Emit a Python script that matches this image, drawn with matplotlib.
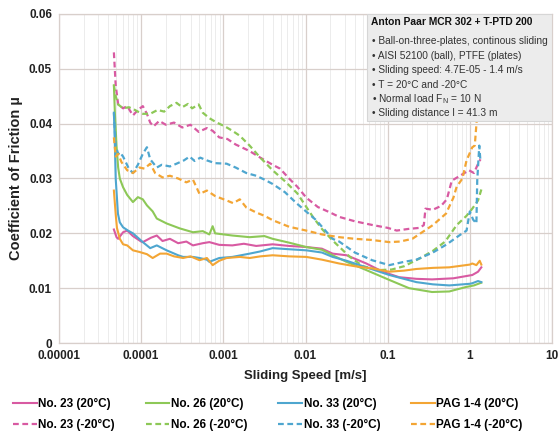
import numpy as np
import matplotlib
matplotlib.use("Agg")
import matplotlib.pyplot as plt
from matplotlib.patches import Rectangle
from matplotlib.ticker import FixedLocator, LogLocator, NullFormatter

plt.rcParams['font.family'] = ['Liberation Sans', 'DejaVu Sans']
plt.rcParams['mathtext.fontset'] = 'custom'
plt.rcParams['mathtext.rm'] = 'Liberation Sans'
plt.rcParams['mathtext.it'] = 'Liberation Sans:italic'
plt.rcParams['mathtext.bf'] = 'Liberation Sans:bold'

# ---------------- data (log10 of sliding speed in m/s, friction coefficient) ----------------
lx_23_p = [-4.332, -4.30, -4.28, -4.22, -4.17, -4.10, -4.00, -3.98, -3.88, -3.81, -3.74, -3.65, -3.55,
           -3.45, -3.37, -3.25, -3.17, -3.05, -2.89, -2.75, -2.60, -2.40, -2.20, -1.99, -1.80, -1.67,
           -1.50, -1.26, -1.06, -0.86, -0.65, -0.46, -0.20, 0.03, 0.10, 0.14]
mu_23_p = [0.0207, 0.0193, 0.0190, 0.0202, 0.0205, 0.0195, 0.0185, 0.0184, 0.0192, 0.0196, 0.0186, 0.0190,
           0.0182, 0.0185, 0.0178, 0.0182, 0.0184, 0.0179, 0.0178, 0.0181, 0.0177, 0.0180, 0.0177, 0.0175,
           0.0172, 0.0163, 0.0160, 0.0145, 0.0130, 0.0120, 0.0117, 0.0116, 0.0118, 0.0124, 0.0130, 0.0138]

lx_23_m = [-4.332, -4.31, -4.28, -4.22, -4.17, -4.10, -4.04, -3.98, -3.93, -3.89, -3.85, -3.78, -3.70,
           -3.60, -3.50, -3.40, -3.30, -3.20, -3.13, -3.05, -2.95, -2.85, -2.75, -2.68, -2.55, -2.40,
           -2.31, -2.20, -2.10, -1.99, -1.85, -1.70, -1.59, -1.40, -1.18, -1.00, -0.89, -0.75, -0.61,
           -0.56, -0.54, -0.45, -0.35, -0.28, -0.22, -0.12, -0.01, 0.05, 0.11, 0.13]
mu_23_m = [0.0530, 0.0470, 0.0435, 0.0428, 0.0432, 0.0415, 0.0425, 0.0432, 0.0418, 0.0402, 0.0395, 0.0405,
           0.0398, 0.0402, 0.0393, 0.0398, 0.0385, 0.0392, 0.0387, 0.0375, 0.0372, 0.0362, 0.0355, 0.0350,
           0.0338, 0.0325, 0.0318, 0.0300, 0.0285, 0.0265, 0.0248, 0.0238, 0.0230, 0.0222, 0.0215, 0.0210,
           0.0205, 0.0208, 0.0210, 0.0215, 0.0245, 0.0243, 0.0250, 0.0262, 0.0296, 0.0305, 0.0315, 0.0310,
           0.0330, 0.0335]

lx_26_p = [-4.332, -4.32, -4.30, -4.28, -4.26, -4.22, -4.17, -4.10, -4.04, -3.98, -3.93, -3.86, -3.81,
           -3.69, -3.53, -3.37, -3.25, -3.17, -3.13, -3.10, -2.89, -2.68, -2.50, -2.40, -2.20, -1.99,
           -1.80, -1.67, -1.50, -1.26, -0.98, -0.74, -0.46, -0.25, -0.05, 0.05, 0.14]
mu_26_p = [0.0470, 0.0420, 0.0360, 0.0320, 0.0300, 0.0284, 0.0270, 0.0257, 0.0266, 0.0262, 0.0251, 0.0240,
           0.0227, 0.0218, 0.0209, 0.0202, 0.0204, 0.0198, 0.0213, 0.0200, 0.0196, 0.0193, 0.0195, 0.0190,
           0.0183, 0.0175, 0.0170, 0.0160, 0.0148, 0.0133, 0.0115, 0.0100, 0.0093, 0.0094, 0.0102, 0.0105,
           0.0110]

lx_26_m = [-4.332, -4.31, -4.28, -4.22, -4.15, -4.10, -4.04, -3.98, -3.89, -3.80, -3.72, -3.65, -3.57,
           -3.50, -3.43, -3.38, -3.30, -3.25, -3.17, -3.08, -2.98, -2.89, -2.80, -2.68, -2.55, -2.40,
           -2.25, -2.10, -1.91, -1.80, -1.67, -1.46, -1.30, -1.10, -0.95, -0.80, -0.60, -0.45, -0.30,
           -0.16, -0.04, 0.03, 0.10, 0.14]
mu_26_m = [0.0470, 0.0450, 0.0435, 0.0428, 0.0430, 0.0427, 0.0422, 0.0418, 0.0418, 0.0425, 0.0422, 0.0432,
           0.0438, 0.0430, 0.0436, 0.0428, 0.0435, 0.0420, 0.0410, 0.0402, 0.0395, 0.0387, 0.0378, 0.0360,
           0.0338, 0.0315, 0.0295, 0.0273, 0.0230, 0.0208, 0.0187, 0.0157, 0.0140, 0.0133, 0.0134, 0.0140,
           0.0155, 0.0168, 0.0185, 0.0215, 0.0232, 0.0245, 0.0260, 0.0280]

lx_33_p = [-4.332, -4.32, -4.31, -4.295, -4.283, -4.26, -4.22, -4.16, -4.10, -4.04, -3.98, -3.89, -3.81,
           -3.69, -3.55, -3.49, -3.37, -3.29, -3.20, -3.17, -3.05, -2.89, -2.68, -2.55, -2.40, -2.20,
           -1.99, -1.80, -1.67, -1.50, -1.26, -0.98, -0.65, -0.45, -0.25, 0.00, 0.03, 0.10, 0.14]
mu_33_p = [0.0420, 0.0360, 0.0300, 0.0265, 0.0236, 0.0220, 0.0211, 0.0205, 0.0200, 0.0192, 0.0184, 0.0173,
           0.0178, 0.0169, 0.0160, 0.0157, 0.0157, 0.0155, 0.0152, 0.0148, 0.0155, 0.0157, 0.0163, 0.0167,
           0.0173, 0.0171, 0.0169, 0.0165, 0.0157, 0.0150, 0.0138, 0.0124, 0.0111, 0.0107, 0.0105, 0.0108,
           0.0109, 0.0113, 0.0111]

lx_33_m = [-4.332, -4.31, -4.28, -4.26, -4.22, -4.15, -4.10, -4.04, -3.98, -3.93, -3.89, -3.81, -3.75,
           -3.65, -3.57, -3.48, -3.41, -3.35, -3.28, -3.20, -3.10, -2.96, -2.85, -2.72, -2.60, -2.50,
           -2.40, -2.25, -2.11, -1.87, -1.67, -1.59, -1.40, -1.19, -0.98, -0.80, -0.65, -0.45, -0.28,
           -0.13, -0.04, 0.00, 0.04, 0.08, 0.09, 0.115, 0.13]
mu_33_m = [0.0420, 0.0360, 0.0345, 0.0348, 0.0340, 0.0318, 0.0310, 0.0325, 0.0345, 0.0357, 0.0335, 0.0320,
           0.0325, 0.0322, 0.0327, 0.0333, 0.0340, 0.0332, 0.0338, 0.0333, 0.0328, 0.0327, 0.0320, 0.0310,
           0.0305, 0.0298, 0.0290, 0.0275, 0.0255, 0.0224, 0.0190, 0.0185, 0.0165, 0.0151, 0.0142, 0.0148,
           0.0152, 0.0165, 0.0180, 0.0196, 0.0205, 0.0240, 0.0225, 0.0218, 0.0296, 0.0360, 0.0330]

lx_pag_p = [-4.332, -4.31, -4.295, -4.26, -4.22, -4.17, -4.10, -4.02, -3.93, -3.86, -3.77, -3.69, -3.60,
            -3.49, -3.40, -3.29, -3.20, -3.13, -3.05, -2.96, -2.80, -2.68, -2.55, -2.40, -2.20, -1.99,
            -1.80, -1.59, -1.40, -1.19, -0.98, -0.80, -0.65, -0.45, -0.25, 0.00, 0.03, 0.08, 0.12, 0.14]
mu_pag_p = [0.0278, 0.0235, 0.0210, 0.0190, 0.0180, 0.0178, 0.0169, 0.0166, 0.0162, 0.0155, 0.0163, 0.0163,
            0.0158, 0.0155, 0.0158, 0.0151, 0.0155, 0.0142, 0.0150, 0.0155, 0.0157, 0.0155, 0.0158, 0.0160,
            0.0158, 0.0157, 0.0152, 0.0145, 0.0140, 0.0136, 0.0130, 0.0132, 0.0135, 0.0137, 0.0138, 0.0143,
            0.0145, 0.0142, 0.0150, 0.0143]

lx_pag_m = [-4.332, -4.31, -4.28, -4.24, -4.17, -4.10, -4.02, -3.96, -3.89, -3.83, -3.74, -3.65, -3.55,
            -3.45, -3.37, -3.29, -3.20, -3.10, -2.96, -2.88, -2.80, -2.72, -2.60, -2.50, -2.40, -2.20,
            -1.99, -1.80, -1.59, -1.40, -1.20, -0.98, -0.85, -0.70, -0.55, -0.45, -0.29, -0.20, -0.16,
            -0.09, -0.04, 0.03, 0.06, 0.09, 0.115]
mu_pag_m = [0.0375, 0.0340, 0.0345, 0.0330, 0.0315, 0.0310, 0.0320, 0.0318, 0.0327, 0.0310, 0.0302, 0.0305,
            0.0300, 0.0293, 0.0298, 0.0272, 0.0278, 0.0268, 0.0260, 0.0255, 0.0262, 0.0247, 0.0238, 0.0232,
            0.0224, 0.0212, 0.0205, 0.0198, 0.0193, 0.0190, 0.0188, 0.0184, 0.0185, 0.0190, 0.0205, 0.0215,
            0.0236, 0.0265, 0.0285, 0.0300, 0.0333, 0.0357, 0.0360, 0.0418, 0.0440]

x_ticks = [0.00001, 0.0001, 0.001, 0.01, 0.1, 1, 10]
x_tick_labels = ["0.00001", "0.0001", "0.001", "0.01", "0.1", "1", "10"]
y_ticks = [0, 0.01, 0.02, 0.03, 0.04, 0.05, 0.06]
y_tick_labels = ["0", "0.01", "0.02", "0.03", "0.04", "0.05", "0.06"]

labels = ["No. 23 (20°C)", "No. 23 (-20°C)", "No. 26 (20°C)", "No. 26 (-20°C)",
          "No. 33 (20°C)", "No. 33 (-20°C)", "PAG 1-4 (20°C)", "PAG 1-4 (-20°C)"]

info_title = "Anton Paar MCR 302 + T-PTD 200"
info_lines = ["• Ball-on-three-plates, continous sliding",
              "• AISI 52100 (ball), PTFE (plates)",
              "• Sliding speed: 4.7E-05 - 1.4 m/s",
              "• T = 20°C and -20°C",
              "• Normal load F$_\\mathregular{N}$ = 10 N",
              "• Sliding distance l = 41.3 m"]

# ---------------- styling ----------------
c_pink = "#d85aa2"
c_green = "#8dc857"
c_blue = "#4ea6cf"
c_orange = "#f3a534"

series = [
    (lx_23_p, mu_23_p, c_pink, "-"),
    (lx_23_m, mu_23_m, c_pink, "--"),
    (lx_26_p, mu_26_p, c_green, "-"),
    (lx_26_m, mu_26_m, c_green, "--"),
    (lx_33_p, mu_33_p, c_blue, "-"),
    (lx_33_m, mu_33_m, c_blue, "--"),
    (lx_pag_p, mu_pag_p, c_orange, "-"),
    (lx_pag_m, mu_pag_m, c_orange, "--"),
]

W, H = 558, 436
fig = plt.figure(figsize=(W / 100, H / 100), dpi=100)
ax = fig.add_axes([59 / W, 1 - 343 / H, (552 - 59) / W, (343 - 14) / H])

handles = []
for (lx, mu, col, ls), lab in zip(series, labels):
    speed = np.power(10.0, np.array(lx))
    if ls == "--":
        h, = ax.plot(speed, mu, color=col, lw=1.6, ls=(0, (2.6, 1.6)), label=lab, zorder=3)
    else:
        h, = ax.plot(speed, mu, color=col, lw=1.5, ls="-", label=lab, zorder=3)
    handles.append(h)

ax.set_xscale("log")
ax.set_xlim(1e-5, 10)
ax.set_ylim(0, 0.06)
ax.xaxis.set_major_locator(FixedLocator(x_ticks))
ax.set_xticklabels(x_tick_labels)
ax.xaxis.set_minor_locator(LogLocator(base=10, subs=np.arange(2, 10) * 1.0, numticks=20))
ax.xaxis.set_minor_formatter(NullFormatter())
ax.set_yticks(y_ticks)
ax.set_yticklabels(y_tick_labels)

ax.grid(True, which="major", axis="both", color="#d8cfcb", lw=0.9, zorder=0)
ax.grid(True, which="minor", axis="x", color="#ececec", lw=0.7, zorder=0)
ax.set_axisbelow(True)
for s in ax.spines.values():
    s.set_color("#d8cfcb")
    s.set_linewidth(0.9)
ax.tick_params(axis="both", which="both", length=0, pad=5)
for lab in ax.get_xticklabels() + ax.get_yticklabels():
    lab.set_fontweight("bold")
    lab.set_fontsize(8.5)
    lab.set_color("#222222")

ax.set_xlabel("Sliding Speed [m/s]", fontsize=9.5, fontweight="bold", color="#222222", labelpad=6)
ax.set_ylabel("Coefficient of Friction µ", fontsize=10.5, fontweight="bold", color="#222222", labelpad=4)

# info box
def ax_x(px):
    return (px - 59) / (552 - 59)

def ax_y(py):
    return (343 - py) / (343 - 14)

box = Rectangle((ax_x(367), ax_y(121)), 1 - ax_x(367), 1 - ax_y(121), transform=ax.transAxes,
                facecolor="#ececec", edgecolor="#d6d6d6", lw=0.8, zorder=5)
ax.add_patch(box)
ax.text(ax_x(371), ax_y(22), info_title, transform=ax.transAxes, fontsize=7.4, fontweight="bold",
        va="center", ha="left", color="#111111", zorder=6)
for i, line in enumerate(info_lines):
    ax.text(ax_x(372), ax_y(44.5 + 14.4 * i), line, transform=ax.transAxes, fontsize=7.3,
            va="baseline", ha="left", color="#333333", zorder=6)

fig.legend(handles=handles, labels=labels, ncol=4, loc="lower left",
           bbox_to_anchor=(13 / W, 5 / H), frameon=False, prop=dict(weight="bold", size=8.5),
           handlelength=2.0, handletextpad=0.15, columnspacing=2.6, labelspacing=0.75,
           borderpad=0, borderaxespad=0)

fig.savefig("out.png", dpi=100)
